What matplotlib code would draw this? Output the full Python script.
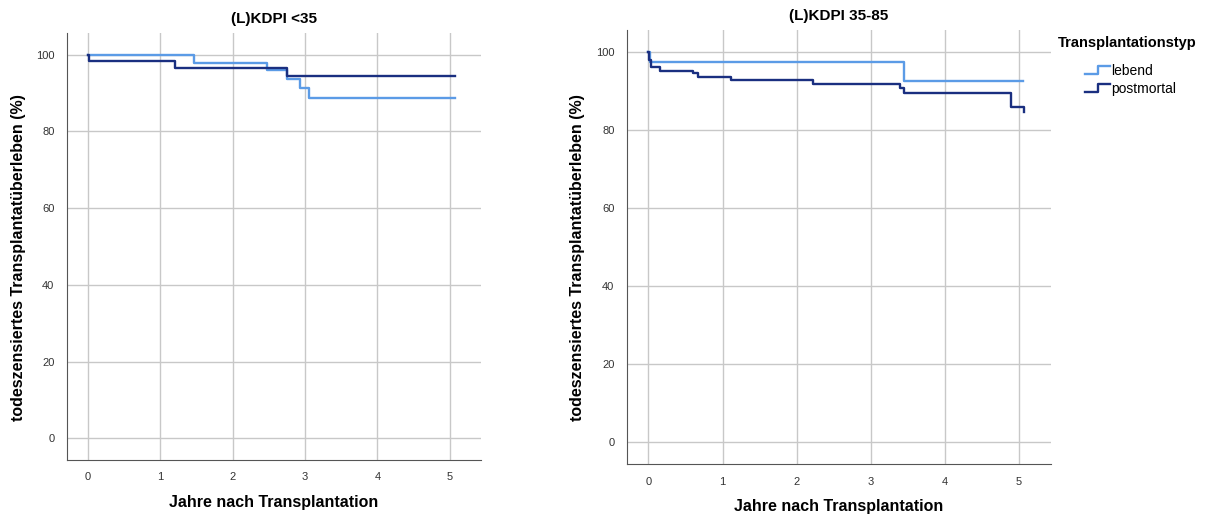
import matplotlib

matplotlib.use("Agg")
import matplotlib.pyplot as plt
from matplotlib.legend_handler import HandlerBase
from matplotlib.lines import Line2D

plt.rcParams["font.family"] = ["Liberation Sans", "DejaVu Sans"]

# Kaplan-Meier steps (years, survival %)
left_lebend_t = [0, 1.46, 2.47, 2.75, 2.93, 3.05, 5.07]
left_lebend_s = [100, 97.9, 96.0, 93.7, 91.2, 88.7, 88.7]
left_post_t = [0, 0.01, 1.20, 2.75, 5.07]
left_post_s = [100, 98.4, 96.5, 94.4, 94.4]

right_lebend_t = [0, 0.02, 3.45, 5.05]
right_lebend_s = [100, 97.5, 92.5, 92.5]
right_post_t = [0, 0.01, 0.03, 0.16, 0.60, 0.67, 1.12, 2.22, 3.39, 3.45, 4.89, 5.06]
right_post_s = [100, 98.0, 96.0, 95.1, 94.5, 93.6, 92.7, 91.8, 90.7, 89.5, 86.0, 84.5]

titles = ["(L)KDPI <35", "(L)KDPI 35-85"]
groups = ["lebend", "postmortal"]
colors = ["#5b9be6", "#1a2f80"]

x_ticks = [0, 1, 2, 3, 4, 5]
y_ticks = [0, 20, 40, 60, 80, 100]


class StepHandler(HandlerBase):
    # small step-shaped legend icon, like SPSS
    def create_artists(self, legend, orig, xd, yd, w, h, fontsize, trans):
        xs = [xd, xd + w * 0.5, xd + w * 0.5, xd + w]
        ys = [yd + h * 0.1, yd + h * 0.1, yd + h * 0.9, yd + h * 0.9]
        ln = Line2D(xs, ys, color=orig.get_color(), lw=orig.get_linewidth(),
                    transform=trans)
        return [ln]


fig = plt.figure(figsize=(12.15, 5.15), dpi=100)
ax_l = fig.add_axes([0.0551, 0.1068, 0.3407, 0.829])
ax_r = fig.add_axes([0.516, 0.099, 0.349, 0.8427])

data = [
    (left_lebend_t, left_lebend_s, left_post_t, left_post_s),
    (right_lebend_t, right_lebend_s, right_post_t, right_post_s),
]

for ax, title, (lt, ls, pt, ps) in zip([ax_l, ax_r], titles, data):
    ax.step(lt, ls, where="post", color=colors[0], lw=1.7, zorder=3)
    ax.step(pt, ps, where="post", color=colors[1], lw=1.7, zorder=4)
    ax.set_xlim(-0.29, 5.43)
    ax.set_ylim(-5.6, 105.6)
    ax.set_xticks(x_ticks)
    ax.set_yticks(y_ticks)
    ax.grid(True, color="#c8c8c8", lw=1)
    ax.set_axisbelow(True)
    for side in ("top", "right"):
        ax.spines[side].set_visible(False)
    for side in ("left", "bottom"):
        ax.spines[side].set_color("#555555")
    ax.tick_params(length=0, labelsize=8, colors="#333333", pad=9)
    ax.set_title(title, fontsize=11, fontweight="bold", pad=7)
    ax.set_xlabel("Jahre nach Transplantation", fontsize=11.5, fontweight="bold",
                  labelpad=9)
    ax.set_ylabel("todeszensiertes Transplantatüberleben (%)", fontsize=11.5,
                  fontweight="bold")
    ax.yaxis.set_label_coords(-0.1, 0.475)

fig.text(1058 / 1215, 1 - 43 / 515, "Transplantationstyp", fontsize=10.5,
         fontweight="bold", ha="left", va="center")
handles = [Line2D([], [], color=c, lw=1.7) for c in colors]
fig.legend(handles, groups, loc="upper left",
           bbox_to_anchor=(1085 / 1215, 1 - 64 / 515),
           frameon=False, fontsize=10, handlelength=1.8, borderpad=0,
           borderaxespad=0, handletextpad=0.1, labelspacing=0.3,
           handler_map={Line2D: StepHandler()})

fig.savefig("out.png", dpi=100)
